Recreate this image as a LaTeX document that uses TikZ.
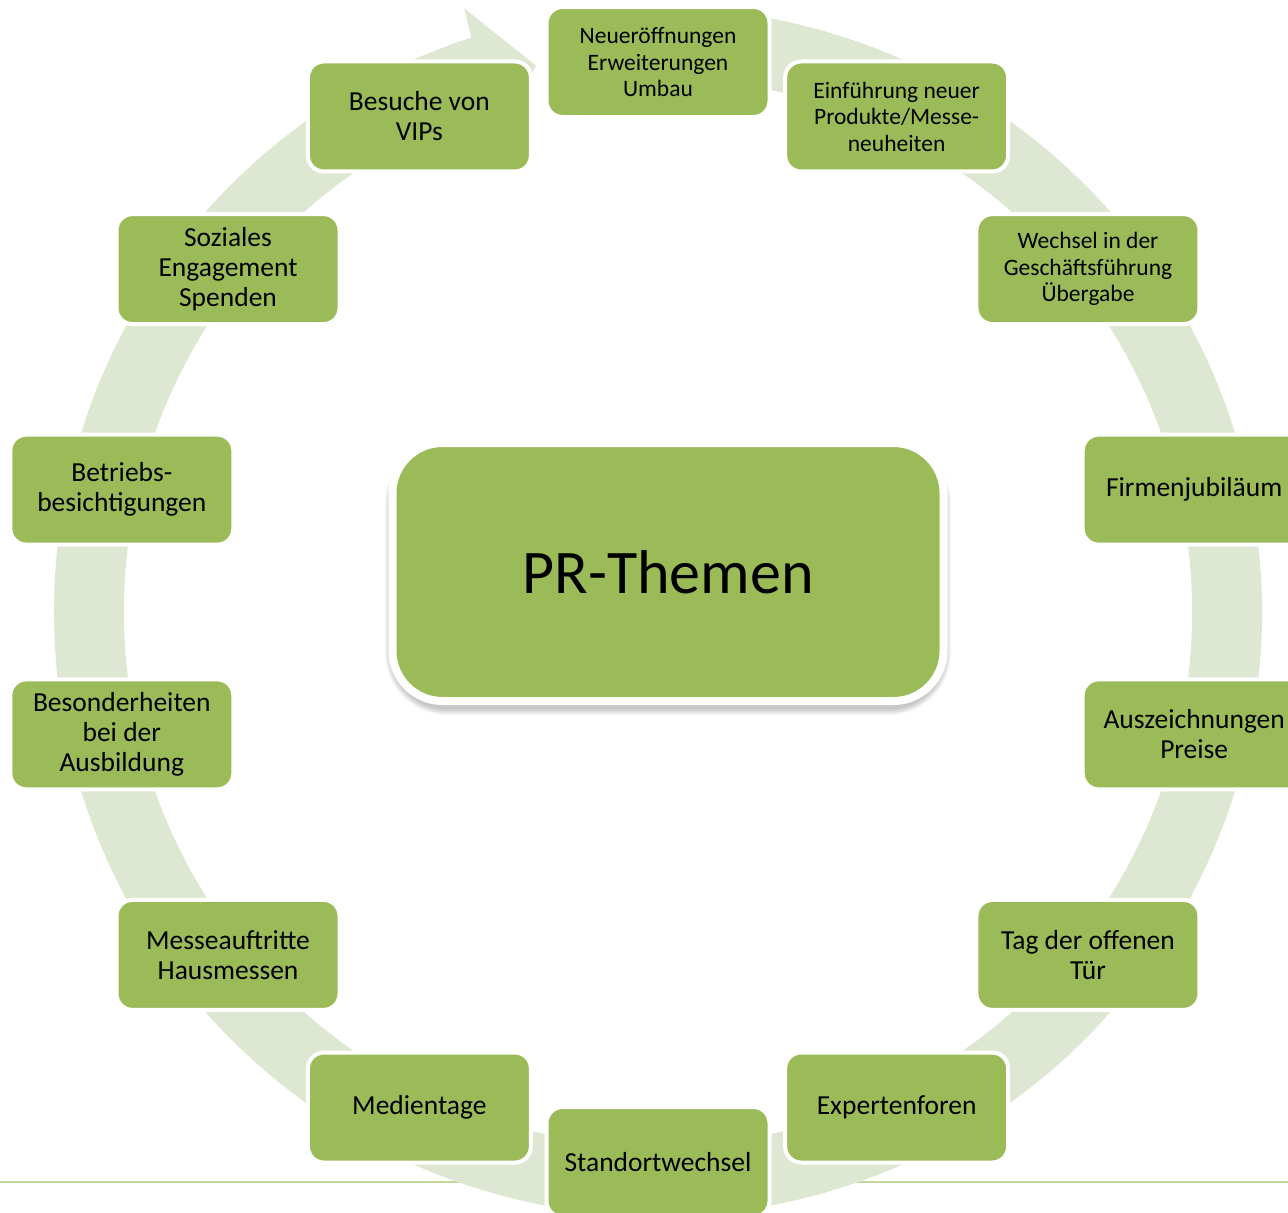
\documentclass[tikz,border=0pt]{standalone}
\usepackage{fontspec}
\setmainfont{Carlito}
\definecolor{boxgreen}{HTML}{9BBB59}
\definecolor{ringgreen}{HTML}{DEE7D1}
\definecolor{linegreen}{HTML}{C3D69B}
\begin{document}
\begin{tikzpicture}[x=1pt,y=1pt,
  topic/.style={rectangle, rounded corners=16pt, fill=boxgreen, draw=white,
    line width=4pt, minimum width=223pt, minimum height=110pt, align=center,
    inner sep=0pt, text=black},
  bigtxt/.style={font=\fontsize{27.5}{30}\selectfont},
  smalltxt/.style={font=\fontsize{23.5}{26.5}\selectfont}]
\useasboundingbox (0,0) rectangle (1288,-1213);
\clip (0,0) rectangle (1288,-1213);
\draw[linegreen, line width=2pt] (0,-1182) -- (1288,-1182);
\coordinate (C) at (658,-612);
\begin{scope}[shift={(C)}]
\fill[ringgreen] (455:604pt) arc[start angle=455, end angle=108, radius=604pt]
  -- (107.8:634pt) -- (102.6:560pt) -- (107.8:504pt) -- (108:534pt)
  arc[start angle=108, end angle=455, radius=534pt] -- cycle;
\node[topic, smalltxt] (n0) at (90:550pt) {Neueröffnungen\\Erweiterungen\\Umbau};
\node[topic, smalltxt] (n1) at (64.286:550pt) {Einführung neuer\\Produkte/Messe-\\neuheiten};
\node[topic, smalltxt] (n2) at (38.571:550pt) {Wechsel in der\\Geschäftsführung\\Übergabe};
\node[topic, bigtxt] (n3) at (12.857:550pt) {Firmenjubiläum};
\node[topic, bigtxt] (n4) at (-12.857:550pt) {Auszeichnungen\\Preise};
\node[topic, bigtxt] (n5) at (-38.571:550pt) {Tag der offenen\\Tür};
\node[topic, bigtxt] (n6) at (-64.286:550pt) {Expertenforen};
\node[topic, bigtxt] (n7) at (-90:550pt) {Standortwechsel};
\node[topic, bigtxt] (n8) at (-115.714:550pt) {Medientage};
\node[topic, bigtxt] (n9) at (-141.429:550pt) {Messeauftritte\\Hausmessen};
\node[topic, bigtxt] (n10) at (-167.143:550pt) {Besonderheiten\\bei der\\Ausbildung};
\node[topic, bigtxt] (n11) at (167.143:550pt) {Betriebs-\\besichtigungen};
\node[topic, bigtxt] (n12) at (141.429:550pt) {Soziales\\Engagement\\Spenden};
\node[topic, bigtxt] (n13) at (115.714:550pt) {Besuche von\\VIPs};
\end{scope}
% soft shadow of the central box
\foreach \k in {0,...,6}{
  \fill[black, opacity=0.035, rounded corners={56pt+\k pt}]
    (389-\k+2, -445+\k-2) rectangle (947+\k-2, -711-\k+2);
}
\node[topic, minimum width=551pt, minimum height=258pt, line width=8pt,
  rounded corners=50pt, font=\fontsize{62}{70}\selectfont]
  (center) at (668,-572) {PR-Themen};
\end{tikzpicture}
\end{document}
